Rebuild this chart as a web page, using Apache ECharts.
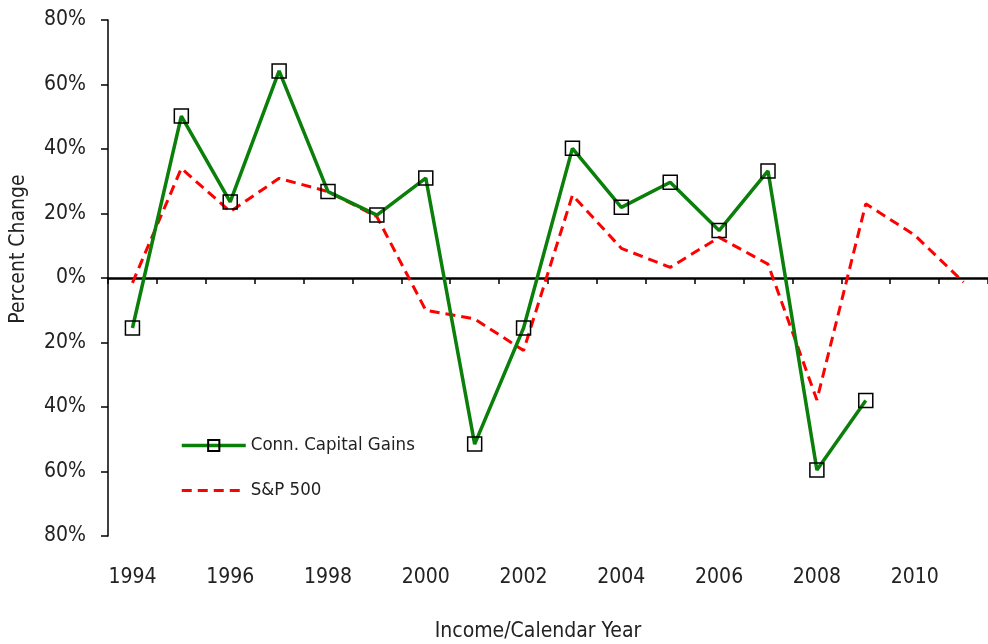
<!DOCTYPE html>
<html>
<head>
<meta charset="utf-8">
<script src="https://cdn.jsdelivr.net/npm/echarts@6/dist/echarts.min.js"></script>
<style>
  html, body { margin: 0; padding: 0; background: #fff; }
  #chart { width: 988px; height: 644px; }
</style>
</head>
<body>
<div id="chart"></div>
<script>
var years = ['1994', '1995', '1996', '1997', '1998', '1999', '2000', '2001', '2002',
             '2003', '2004', '2005', '2006', '2007', '2008', '2009', '2010', '2011'];
// Conn. capital gains, percent change
var connGains = [-15.5, 50.2, 23.6, 64.2, 26.8, 19.5, 31, -51.5, -15.5,
                 40.2, 21.9, 29.7, 14.7, 33.2, -59.5, -38, null, null];
// S&P 500, percent change
var sp500 = [-1.5, 34, 20.6, 30.9, 26.8, 19, -10, -12.7, -22.5,
             25.7, 9.2, 3.3, 12.6, 4.3, -37.8, 23, 13.3, -1.3];

var FONT = '"DejaVu Sans Condensed", "Liberation Sans Narrow", "Liberation Sans", sans-serif';

var option = {
    backgroundColor: '#fff',
    animation: false,
    textStyle: { fontFamily: FONT },
    grid: { left: 108, top: 20, width: 891, height: 516 },
    legend: {
        orient: 'vertical',
        left: 175,
        top: 431,
        itemWidth: 64,
        itemHeight: 14,
        itemGap: 26,
        textStyle: { fontSize: 18.5, color: '#222', fontFamily: FONT },
        data: [
            { name: 'Conn. Capital Gains', lineStyle: { width: 3.5 } },
            { name: 'S&P 500', lineStyle: { width: 3 }, itemStyle: { opacity: 0 } }
        ]
    },
    xAxis: [{
        // axis drawn through zero with ticks only
        type: 'category',
        data: years,
        boundaryGap: true,
        axisLine: { onZero: true, lineStyle: { color: '#000', width: 2.5 } },
        axisTick: { show: true, inside: false, length: 6, lineStyle: { color: '#000', width: 1.5 } },
        axisLabel: { show: false },
        splitLine: { show: false }
    }, {
        // labels along the bottom
        type: 'category',
        data: years,
        position: 'bottom',
        boundaryGap: true,
        axisLine: { show: false, onZero: false },
        axisTick: { show: false },
        axisLabel: { interval: 1, margin: 31, fontSize: 21, color: '#222', fontFamily: FONT },
        splitLine: { show: false }
    }],
    yAxis: {
        type: 'value',
        min: -80,
        max: 80,
        interval: 20,
        axisLine: { show: true, lineStyle: { color: '#000', width: 1.5 } },
        axisTick: { show: true, length: 7, lineStyle: { color: '#000', width: 1.5 } },
        axisLabel: {
            margin: 22,
            fontSize: 21,
            color: '#222',
            fontFamily: FONT,
            formatter: function (v) { return Math.abs(v) + '%'; }
        },
        splitLine: { show: false }
    },
    graphic: [{
        type: 'text',
        x: 538,
        y: 632,
        style: {
            text: 'Income/Calendar Year',
            font: '21px ' + FONT,
            fill: '#222',
            align: 'center',
            verticalAlign: 'middle'
        }
    }, {
        type: 'text',
        x: 19,
        y: 249,
        rotation: Math.PI / 2,
        style: {
            text: 'Percent Change',
            font: '21px ' + FONT,
            fill: '#222',
            align: 'center',
            verticalAlign: 'middle'
        }
    }],
    series: [{
        name: 'S&P 500',
        type: 'line',
        data: sp500,
        symbol: 'none',
        lineStyle: { color: '#ff0000', width: 3, type: [10, 6] },
        itemStyle: { color: '#ff0000' },
        z: 2
    }, {
        name: 'Conn. Capital Gains',
        type: 'line',
        data: connGains,
        symbol: 'rect',
        symbolSize: 14,
        showAllSymbol: true,
        connectNulls: false,
        lineStyle: { color: '#0a7f0a', width: 3.5 },
        itemStyle: { color: 'rgba(255,255,255,0)', borderColor: '#000', borderWidth: 1.5 },
        z: 3
    }]
};

var myChart = echarts.init(document.getElementById('chart'));
myChart.setOption(option);
</script>
</body>
</html>
